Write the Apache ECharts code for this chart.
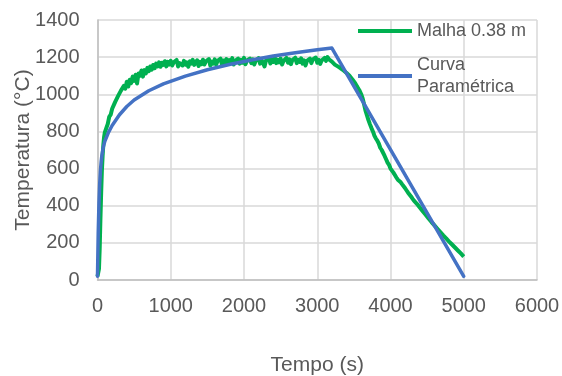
<!DOCTYPE html>
<html>
<head>
<meta charset="utf-8">
<script src="https://cdn.jsdelivr.net/npm/echarts@6/dist/echarts.min.js"></script>
<style>
  html, body { margin: 0; padding: 0; background: #fff; }
  #chart { width: 562px; height: 376px; }
</style>
</head>
<body>
<div id="chart"></div>
<script>
// Measured mesh temperature: time (s) and temperature (°C)
const malhaTime = [
  0, 10, 20, 30, 40, 50, 60, 70, 80, 90, 100,
  120, 140, 160, 180, 200, 220, 240, 260, 280, 300, 320, 340, 360, 380, 400,
  420, 440, 460, 480, 500, 520, 540, 560, 580, 600, 620, 640, 660, 680, 700,
  720, 740, 760, 780, 800, 820, 840, 860, 880, 900, 920, 940, 960, 980, 1000,
  1020, 1040, 1060, 1080, 1100, 1120, 1140, 1160, 1180, 1200,
  1220, 1240, 1260, 1280, 1300, 1320, 1340, 1360, 1380, 1400,
  1420, 1440, 1460, 1480, 1500, 1520, 1540, 1560, 1580, 1600,
  1620, 1640, 1660, 1680, 1700, 1720, 1740, 1760, 1780, 1800,
  1820, 1840, 1860, 1880, 1900, 1920, 1940, 1960, 1980, 2000,
  2020, 2040, 2060, 2080, 2100, 2120, 2140, 2160, 2180, 2200,
  2220, 2240, 2260, 2280, 2300, 2320, 2340, 2360, 2380, 2400,
  2420, 2440, 2460, 2480, 2500, 2520, 2540, 2560, 2580, 2600,
  2620, 2640, 2660, 2680, 2700, 2720, 2740, 2760, 2780, 2800,
  2820, 2840, 2860, 2880, 2900, 2920, 2940, 2960, 2980, 3000,
  3020, 3040, 3060, 3080, 3100, 3120, 3140, 3160, 3180, 3200,
  3220, 3240, 3260, 3280, 3300, 3320, 3340, 3360, 3380, 3400,
  3420, 3440, 3460, 3480, 3500, 3520, 3540, 3560, 3580, 3600,
  3620, 3640, 3660, 3680, 3700, 3720, 3740, 3760, 3780, 3800,
  3820, 3840, 3860, 3880, 3900, 3920, 3940, 3960, 3980, 4000,
  4020, 4040, 4060, 4080, 4100, 4120, 4140, 4160, 4180, 4200,
  4220, 4240, 4260, 4280, 4300, 4320, 4340, 4360, 4380, 4400,
  4440, 4480, 4520, 4560, 4600, 4640, 4680, 4720, 4760, 4800,
  4840, 4880, 4920, 4960, 5000
];
const malhaTemp = [
  20, 25, 60, 170, 330, 470, 590, 670, 730, 770, 795,
  818, 840, 878, 890, 922, 925, 958, 962, 990, 985, 1020, 1012, 1045, 1030, 1068,
  1042, 1078, 1060, 1095, 1072, 1105, 1058, 1112, 1100, 1128, 1095, 1130, 1112, 1142, 1125,
  1150, 1132, 1158, 1140, 1165, 1150, 1172, 1148, 1170, 1158, 1178, 1150, 1175, 1160, 1180,
  1155, 1172, 1162, 1185, 1150, 1168, 1176, 1155, 1180, 1160,
  1172, 1148, 1178, 1165, 1185, 1158, 1170, 1183, 1152, 1175,
  1162, 1186, 1160, 1178, 1168, 1190, 1155, 1176, 1165, 1188,
  1160, 1180, 1170, 1192, 1158, 1182, 1170, 1190, 1165, 1184,
  1172, 1195, 1160, 1180, 1174, 1192, 1165, 1185, 1170, 1196,
  1162, 1182, 1175, 1192, 1168, 1188, 1160, 1180, 1172, 1195,
  1165, 1184, 1170, 1150, 1182, 1176, 1195, 1166, 1186, 1174,
  1198, 1168, 1185, 1172, 1192, 1160, 1180, 1176, 1196, 1170,
  1188, 1162, 1184, 1176, 1197, 1168, 1186, 1174, 1194, 1165,
  1183, 1155, 1180, 1172, 1192, 1168, 1188, 1178, 1198, 1170,
  1186, 1164, 1182, 1176, 1196, 1180, 1200, 1188, 1195, 1176,
  1170, 1160, 1168, 1150, 1148, 1140, 1135, 1128, 1122, 1115,
  1110, 1100, 1092, 1080, 1070, 1058, 1045, 1030, 1018, 1000,
  978, 945, 910, 885, 860, 838, 818, 800, 778, 762,
  750, 735, 712, 700, 690, 668, 650, 632, 620, 600,
  592, 578, 565, 552, 540, 532, 526, 515, 505, 494,
  482, 470, 460, 450, 438, 427, 418, 410, 400, 390,
  370, 351, 331, 312, 294, 276, 258, 240, 224, 207,
  191, 175, 159, 143, 126
];

// Parametric fire curve: heating branch, then linear cooling
const curvaTime = [
  0, 10, 20, 30, 40, 50, 60, 80, 100, 150, 200, 300, 400, 500, 700, 900,
  1200, 1500, 1800, 2100, 2400, 2700, 3000, 3200, 5000
];
const curvaTemp = [
  20, 257, 414, 518, 588, 637, 672, 717, 747, 795, 832, 890, 934, 969, 1019, 1056,
  1098, 1132, 1160, 1185, 1206, 1224, 1240, 1249, 20
];

const xTicks = { min: 0, max: 6000, step: 1000 };
const yTicks = { min: 0, max: 1400, step: 200 };

const textGray = '#595959';
const font = "'Liberation Sans', Arial, sans-serif";

const pairs = (xs, ys) => xs.map((x, i) => [x, ys[i]]);

const chart = echarts.init(document.getElementById('chart'), null, { renderer: 'canvas' });

chart.setOption({
  animation: false,
  backgroundColor: '#ffffff',
  grid: {
    left: 97.5, right: 25, top: 20, bottom: 96,
    containLabel: false,
    outerBoundsMode: 'none'
  },
  xAxis: {
    type: 'value',
    min: xTicks.min, max: xTicks.max, interval: xTicks.step,
    name: 'Tempo (s)',
    nameLocation: 'middle',
    nameGap: 75,
    nameMoveOverlap: false,
    nameTextStyle: { color: textGray, fontSize: 21, fontFamily: font },
    axisLine: { show: true, lineStyle: { color: '#BFBFBF', width: 1.5 } },
    axisTick: { show: false },
    axisLabel: {
      color: textGray, fontSize: 20, fontFamily: font, margin: 16,
      formatter: v => String(v)
    },
    splitLine: { show: true, lineStyle: { color: '#D9D9D9', width: 1.5 } }
  },
  yAxis: {
    type: 'value',
    min: yTicks.min, max: yTicks.max, interval: yTicks.step,
    name: 'Temperatura (°C)',
    nameLocation: 'middle',
    nameGap: 64,
    nameMoveOverlap: false,
    nameTextStyle: { color: textGray, fontSize: 21, fontFamily: font },
    axisLine: { show: true, lineStyle: { color: '#BFBFBF', width: 1.5 } },
    axisTick: { show: false },
    axisLabel: {
      color: textGray, fontSize: 20, fontFamily: font, margin: 18,
      formatter: v => String(v)
    },
    splitLine: { show: true, lineStyle: { color: '#D9D9D9', width: 1.5 } }
  },
  legend: [
    {
      data: ['Malha 0.38 m'],
      left: 358, top: 22,
      padding: 0,
      icon: 'rect',
      itemWidth: 54, itemHeight: 4,
      itemGap: 0,
      textStyle: { color: textGray, fontSize: 18, fontFamily: font }
    },
    {
      data: ['Curva Paramétrica'],
      left: 358, top: 43,
      padding: 0,
      icon: 'rect',
      itemWidth: 54, itemHeight: 4,
      formatter: () => 'Curva\nParamétrica',
      textStyle: {
        color: textGray, fontSize: 18, fontFamily: font,
        lineHeight: 22, padding: [22, 0, 0, 0]
      }
    }
  ],
  series: [
    {
      name: 'Malha 0.38 m',
      type: 'line',
      data: pairs(malhaTime, malhaTemp),
      showSymbol: false,
      symbol: 'none',
      color: '#00B050',
      lineStyle: { color: '#00B050', width: 4, join: 'round' },
      z: 2
    },
    {
      name: 'Curva Paramétrica',
      type: 'line',
      data: pairs(curvaTime, curvaTemp),
      showSymbol: false,
      symbol: 'none',
      color: '#4472C4',
      lineStyle: { color: '#4472C4', width: 3.5, join: 'round', cap: 'round' },
      z: 3
    }
  ]
});
</script>
</body>
</html>
